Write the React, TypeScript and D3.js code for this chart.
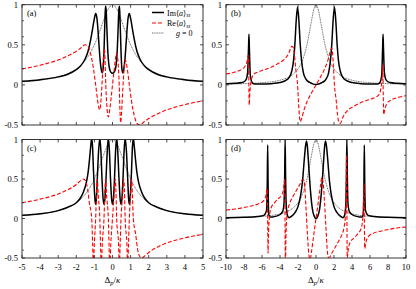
import React from 'react';
import * as d3 from 'd3';

type P = [number, number];

const xTicksNarrow = [-5, -4, -3, -2, -1, 0, 1, 2, 3, 4, 5];
const xTicksWide = [-10, -8, -6, -4, -2, 0, 2, 4, 6, 8, 10];
const yTickLabels = [-0.5, 0, 0.5, 1];
const yMinorTicks = [-0.4, -0.2, 0.2, 0.4, 0.6, 0.8];

const g0Narrow: P[] = [[-5,0.038],[-4,0.059],[-3,0.1],[-2.5,0.138],[-2,0.2],[-1.5,0.308],[-1.25,0.39],[-1,0.5],[-0.75,0.64],[-0.5,0.8],[-0.25,0.94],[0,1],[0.25,0.94],[0.5,0.8],[0.75,0.64],[1,0.5],[1.25,0.39],[1.5,0.308],[2,0.2],[2.5,0.138],[3,0.1],[4,0.059],[5,0.038]];
const g0Wide: P[] = [[-10,0.01],[-8,0.015],[-6,0.027],[-5,0.038],[-4,0.059],[-3,0.1],[-2.5,0.138],[-2,0.2],[-1.5,0.308],[-1,0.5],[-0.5,0.8],[-0.25,0.94],[0,1],[0.25,0.94],[0.5,0.8],[1,0.5],[1.5,0.308],[2,0.2],[2.5,0.138],[3,0.1],[4,0.059],[5,0.038],[6,0.027],[8,0.015],[10,0.01]];

const imA: P[] = [[-5,0.045],[-4,0.065],[-3,0.1],[-2.5,0.13],[-2,0.19],[-1.75,0.24],[-1.5,0.33],[-1.35,0.42],[-1.2,0.57],[-1.1,0.7],[-1.0,0.83],[-0.93,0.89],[-0.86,0.83],[-0.8,0.68],[-0.74,0.48],[-0.68,0.3],[-0.62,0.19],[-0.57,0.15],[-0.52,0.2],[-0.47,0.42],[-0.43,0.72],[-0.4,0.92],[-0.38,0.98],[-0.35,0.93],[-0.31,0.7],[-0.26,0.42],[-0.2,0.25],[-0.12,0.17],[-0.05,0.15],[0,0.145],[0.05,0.15],[0.12,0.17],[0.2,0.25],[0.26,0.42],[0.31,0.7],[0.35,0.93],[0.38,0.98],[0.4,0.92],[0.43,0.72],[0.47,0.42],[0.52,0.2],[0.57,0.15],[0.62,0.19],[0.68,0.3],[0.74,0.48],[0.8,0.68],[0.86,0.83],[0.93,0.89],[1.0,0.83],[1.1,0.7],[1.2,0.57],[1.35,0.42],[1.5,0.33],[1.75,0.24],[2,0.19],[2.5,0.13],[3,0.1],[4,0.065],[5,0.045]];
const reA: P[] = [[-5,0.2],[-4.5,0.22],[-4,0.245],[-3.5,0.275],[-3,0.31],[-2.5,0.36],[-2,0.42],[-1.75,0.46],[-1.5,0.5],[-1.35,0.48],[-1.2,0.38],[-1.05,0.2],[-0.93,0],[-0.83,-0.18],[-0.75,-0.29],[-0.7,-0.31],[-0.64,-0.2],[-0.57,0.05],[-0.5,0.35],[-0.45,0.45],[-0.41,0.3],[-0.37,0],[-0.3,-0.3],[-0.23,-0.4],[-0.15,-0.3],[-0.07,-0.15],[0,0],[0.07,0.15],[0.15,0.3],[0.23,0.4],[0.3,0.3],[0.37,0],[0.41,-0.3],[0.45,-0.47],[0.5,-0.35],[0.57,-0.05],[0.64,0.2],[0.7,0.31],[0.75,0.29],[0.83,0.18],[0.93,0],[1.05,-0.2],[1.2,-0.38],[1.35,-0.48],[1.5,-0.5],[1.75,-0.46],[2,-0.42],[2.5,-0.36],[3,-0.31],[3.5,-0.275],[4,-0.245],[4.5,-0.22],[5,-0.2]];

const imB: P[] = [[-10,0.015],[-9,0.02],[-8.2,0.03],[-7.8,0.06],[-7.6,0.15],[-7.5,0.45],[-7.45,0.63],[-7.4,0.45],[-7.3,0.12],[-7.1,0.03],[-6.8,0.01],[-6,0.01],[-5,0.015],[-4,0.03],[-3.3,0.06],[-3,0.09],[-2.7,0.17],[-2.5,0.3],[-2.35,0.5],[-2.2,0.8],[-2.05,0.97],[-1.9,0.8],[-1.75,0.5],[-1.6,0.3],[-1.4,0.15],[-1.1,0.07],[-0.7,0.03],[-0.3,0.01],[0,0.005],[0.3,0.01],[0.7,0.03],[1.1,0.07],[1.4,0.15],[1.6,0.3],[1.75,0.5],[1.9,0.8],[2.05,0.97],[2.2,0.8],[2.35,0.5],[2.5,0.3],[2.7,0.17],[3,0.09],[3.3,0.06],[4,0.03],[5,0.015],[6,0.01],[6.8,0.01],[7.1,0.03],[7.3,0.12],[7.4,0.45],[7.45,0.63],[7.5,0.45],[7.6,0.15],[7.8,0.06],[8.2,0.03],[9,0.02],[10,0.015]];
const reB: P[] = [[-10,0.135],[-9,0.16],[-8.3,0.19],[-7.9,0.23],[-7.65,0.3],[-7.52,0.37],[-7.47,0.1],[-7.42,-0.25],[-7.35,-0.1],[-7.2,0.05],[-7.0,0.12],[-6.5,0.16],[-6,0.18],[-5,0.22],[-4,0.28],[-3.5,0.32],[-3,0.4],[-2.7,0.48],[-2.55,0.47],[-2.4,0.38],[-2.25,0.2],[-2.05,0],[-1.9,-0.3],[-1.75,-0.46],[-1.6,-0.42],[-1.3,-0.3],[-1.0,-0.21],[-0.5,-0.1],[0,0],[0.5,0.1],[1.0,0.21],[1.3,0.3],[1.6,0.42],[1.75,0.46],[1.9,0.3],[2.05,0],[2.25,-0.2],[2.4,-0.38],[2.55,-0.47],[2.7,-0.48],[3,-0.4],[3.5,-0.32],[4,-0.28],[5,-0.22],[6,-0.18],[6.5,-0.16],[7.0,-0.12],[7.2,-0.05],[7.35,0.1],[7.42,0.25],[7.47,-0.1],[7.52,-0.37],[7.65,-0.3],[7.9,-0.23],[8.3,-0.19],[9,-0.16],[10,-0.135]];

const imC: P[] = [[-5,0.04],[-4,0.06],[-3,0.1],[-2.5,0.14],[-2,0.2],[-1.8,0.25],[-1.6,0.34],[-1.45,0.45],[-1.35,0.58],[-1.27,0.75],[-1.2,0.92],[-1.15,1.02],[-1.1,0.9],[-1.05,0.6],[-1.0,0.35],[-0.96,0.22],[-0.93,0.18],[-0.89,0.25],[-0.84,0.5],[-0.77,0.85],[-0.7,1.02],[-0.64,0.85],[-0.58,0.5],[-0.52,0.25],[-0.47,0.18],[-0.42,0.25],[-0.36,0.5],[-0.29,0.85],[-0.23,1.02],[-0.17,0.85],[-0.11,0.5],[-0.05,0.25],[0,0.18],[0.05,0.25],[0.11,0.5],[0.17,0.85],[0.23,1.02],[0.29,0.85],[0.36,0.5],[0.42,0.25],[0.47,0.18],[0.52,0.25],[0.58,0.5],[0.64,0.85],[0.7,1.02],[0.77,0.85],[0.84,0.5],[0.89,0.25],[0.93,0.18],[0.96,0.22],[1.0,0.35],[1.05,0.6],[1.1,0.9],[1.15,1.02],[1.2,0.92],[1.27,0.75],[1.35,0.58],[1.45,0.45],[1.6,0.34],[1.8,0.25],[2,0.2],[2.5,0.14],[3,0.1],[4,0.06],[5,0.04]];
const reC: P[] = [[-5,0.2],[-4,0.245],[-3,0.31],[-2.5,0.36],[-2,0.43],[-1.75,0.48],[-1.6,0.5],[-1.48,0.47],[-1.38,0.38],[-1.28,0.2],[-1.15,0],[-1.1,-0.3],[-1.06,-0.6],[-1.0,-0.3],[-0.93,0],[-0.88,0.35],[-0.84,0.5],[-0.79,0.3],[-0.7,0],[-0.66,-0.35],[-0.62,-0.6],[-0.56,-0.3],[-0.47,0],[-0.42,0.35],[-0.38,0.5],[-0.33,0.3],[-0.23,0],[-0.19,-0.35],[-0.15,-0.6],[-0.09,-0.3],[0,0],[0.09,0.3],[0.15,0.5],[0.19,0.35],[0.23,0],[0.33,-0.3],[0.38,-0.6],[0.42,-0.35],[0.47,0],[0.56,0.3],[0.62,0.5],[0.66,0.35],[0.7,0],[0.79,-0.3],[0.84,-0.6],[0.88,-0.35],[0.93,0],[1.0,0.3],[1.06,0.5],[1.1,0.3],[1.15,0],[1.28,-0.2],[1.38,-0.38],[1.48,-0.47],[1.6,-0.5],[1.75,-0.48],[2,-0.43],[2.5,-0.36],[3,-0.31],[4,-0.245],[5,-0.2]];

const imD: P[] = [[-10,0.01],[-8,0.015],[-6.5,0.025],[-5.8,0.04],[-5.5,0.1],[-5.42,0.4],[-5.37,0.93],[-5.32,0.4],[-5.25,0.05],[-5.1,0.02],[-4.8,0.02],[-4.4,0.03],[-4,0.05],[-3.7,0.09],[-3.55,0.2],[-3.48,0.55],[-3.43,1.0],[-3.38,0.55],[-3.3,0.15],[-3.15,0.03],[-3.0,0.01],[-2.7,0.03],[-2.3,0.08],[-2,0.15],[-1.7,0.3],[-1.5,0.47],[-1.3,0.75],[-1.15,0.93],[-1.05,0.98],[-0.95,0.9],[-0.8,0.65],[-0.6,0.33],[-0.4,0.12],[-0.2,0.03],[0,0],[0.2,0.03],[0.4,0.12],[0.6,0.33],[0.8,0.65],[0.95,0.9],[1.05,0.98],[1.15,0.93],[1.3,0.75],[1.5,0.47],[1.7,0.3],[2,0.15],[2.3,0.08],[2.7,0.03],[3.0,0.01],[3.15,0.03],[3.3,0.15],[3.38,0.55],[3.43,1.0],[3.48,0.55],[3.55,0.2],[3.7,0.09],[4,0.05],[4.4,0.03],[4.8,0.02],[5.1,0.02],[5.25,0.05],[5.32,0.4],[5.37,0.93],[5.42,0.4],[5.5,0.1],[5.8,0.04],[6.5,0.025],[8,0.015],[10,0.01]];
const reD: P[] = [[-10,0.107],[-9,0.12],[-8,0.14],[-7,0.165],[-6.3,0.19],[-5.8,0.23],[-5.55,0.3],[-5.42,0.38],[-5.37,0],[-5.33,-0.44],[-5.28,-0.2],[-5.15,0.05],[-5,0.13],[-4.6,0.2],[-4.2,0.25],[-3.8,0.3],[-3.6,0.38],[-3.47,0.5],[-3.43,-0.2],[-3.4,-0.8],[-3.35,-0.3],[-3.25,0],[-3.1,0.12],[-2.9,0.2],[-2.6,0.27],[-2.2,0.35],[-1.8,0.43],[-1.5,0.49],[-1.37,0.49],[-1.25,0.4],[-1.12,0.15],[-1.05,0],[-0.95,-0.2],[-0.8,-0.45],[-0.65,-0.52],[-0.5,-0.42],[-0.3,-0.25],[-0.15,-0.12],[0,0],[0.15,0.12],[0.3,0.25],[0.5,0.42],[0.65,0.52],[0.8,0.45],[0.95,0.2],[1.05,0],[1.12,-0.15],[1.25,-0.4],[1.37,-0.49],[1.5,-0.49],[1.8,-0.43],[2.2,-0.35],[2.6,-0.27],[2.9,-0.2],[3.1,-0.12],[3.25,0],[3.35,0.3],[3.4,0.8],[3.43,0.2],[3.47,-0.5],[3.6,-0.38],[3.8,-0.3],[4.2,-0.25],[4.6,-0.2],[5,-0.13],[5.15,-0.05],[5.28,0.2],[5.33,0.44],[5.37,0],[5.42,-0.38],[5.55,-0.3],[5.8,-0.23],[6.3,-0.19],[7,-0.165],[8,-0.14],[9,-0.12],[10,-0.107]];

const FONT = "'Liberation Serif', 'DejaVu Serif', serif";

interface PanelProps {
  id: string;
  left: number; right: number; top: number; bottom: number;
  domain: [number, number];
  xTicks: number[];
  im: P[]; re: P[]; g0: P[];
  label: string;
  showXLabels: boolean;
  legend?: boolean;
}

function Panel(p: PanelProps) {
  const xs = d3.scaleLinear().domain(p.domain).range([p.left, p.right]);
  const ys = d3.scaleLinear().domain([-0.5, 1]).range([p.bottom, p.top]);
  const line = d3.line<P>().x(d => xs(d[0])).y(d => ys(d[1])).curve(d3.curveMonotoneX);
  const clipId = 'clip-' + p.id;
  const tl = 3;
  return (
    <g>
      <defs>
        <clipPath id={clipId}>
          <rect x={p.left} y={p.top} width={p.right - p.left} height={p.bottom - p.top} />
        </clipPath>
      </defs>
      <g clipPath={`url(#${clipId})`}>
        <path d={line(p.g0) || ''} fill="none" stroke="#000" strokeWidth={0.6} strokeDasharray="1 0.7" />
        <path d={line(p.im) || ''} fill="none" stroke="#000" strokeWidth={1.5} />
        <path d={line(p.re) || ''} fill="none" stroke="#ff0000" strokeWidth={1.1} strokeDasharray="4 2" />
      </g>
      <rect x={p.left} y={p.top} width={p.right - p.left} height={p.bottom - p.top} fill="none" stroke="#222" strokeWidth={0.9} />
      {p.xTicks.map(t => (
        <g key={'xt' + t}>
          <line x1={xs(t)} x2={xs(t)} y1={p.bottom} y2={p.bottom - tl} stroke="#222" strokeWidth={0.8} />
          <line x1={xs(t)} x2={xs(t)} y1={p.top} y2={p.top + tl} stroke="#222" strokeWidth={0.8} />
          {p.showXLabels && (
            <text x={xs(t)} y={p.bottom + 12} fontSize={8.5} textAnchor="middle" fontFamily={FONT}>{t}</text>
          )}
        </g>
      ))}
      {yTickLabels.map(t => (
        <g key={'yt' + t}>
          <line x1={p.left} x2={p.left + tl} y1={ys(t)} y2={ys(t)} stroke="#222" strokeWidth={0.8} />
          <line x1={p.right} x2={p.right - tl} y1={ys(t)} y2={ys(t)} stroke="#222" strokeWidth={0.8} />
          <text x={p.left - 4} y={ys(t) + 3} fontSize={8.5} textAnchor="end" fontFamily={FONT}>{t}</text>
        </g>
      ))}
      {yMinorTicks.map(t => (
        <g key={'ym' + t}>
          <line x1={p.left} x2={p.left + 2} y1={ys(t)} y2={ys(t)} stroke="#222" strokeWidth={0.7} />
          <line x1={p.right} x2={p.right - 2} y1={ys(t)} y2={ys(t)} stroke="#222" strokeWidth={0.7} />
        </g>
      ))}
      <text x={p.left + 5} y={p.top + 11} fontSize={8.5} fontFamily={FONT}>{p.label}</text>
      {p.showXLabels && (
        <text x={(p.left + p.right) / 2} y={p.bottom + 25} fontSize={9} textAnchor="middle" fontFamily={FONT}>
          Δ<tspan fontStyle="italic" fontSize={6.5} dy={2}>p</tspan><tspan dy={-2}>/</tspan><tspan fontStyle="italic">κ</tspan>
        </text>
      )}
      {p.legend && (
        <g fontFamily={FONT} fontSize={8}>
          <line x1={152} x2={164} y1={12.5} y2={12.5} stroke="#000" strokeWidth={1.5} />
          <text x={167} y={15.5}>Im⟨<tspan fontStyle="italic">a</tspan>⟩<tspan fontStyle="italic" fontSize={5.5} dy={1.5}>ss</tspan></text>
          <line x1={152} x2={164} y1={23} y2={23} stroke="#ff0000" strokeWidth={1.1} strokeDasharray="4 2" />
          <text x={167} y={26}>Re⟨<tspan fontStyle="italic">a</tspan>⟩<tspan fontStyle="italic" fontSize={5.5} dy={1.5}>ss</tspan></text>
          <line x1={152} x2={164} y1={33} y2={33} stroke="#000" strokeWidth={0.6} strokeDasharray="1 0.7" />
          <text x={176} y={36}><tspan fontStyle="italic">g</tspan> = 0</text>
        </g>
      )}
    </g>
  );
}

export default function App() {
  return (
    <svg width={416} height={289} style={{ position: 'absolute', left: 0, top: 0, background: '#fff' }}>
      <Panel id="a" left={22} right={203} top={4.7} bottom={125} domain={[-5, 5]} xTicks={xTicksNarrow} im={imA} re={reA} g0={g0Narrow} label="(a)" showXLabels={false} legend />
      <Panel id="b" left={226} right={406} top={4.7} bottom={125} domain={[-10, 10]} xTicks={xTicksWide} im={imB} re={reB} g0={g0Wide} label="(b)" showXLabels={false} />
      <Panel id="c" left={22} right={203} top={139.5} bottom={258} domain={[-5, 5]} xTicks={xTicksNarrow} im={imC} re={reC} g0={g0Narrow} label="(c)" showXLabels />
      <Panel id="d" left={226} right={406} top={139.5} bottom={258} domain={[-10, 10]} xTicks={xTicksWide} im={imD} re={reD} g0={g0Wide} label="(d)" showXLabels />
    </svg>
  );
}
